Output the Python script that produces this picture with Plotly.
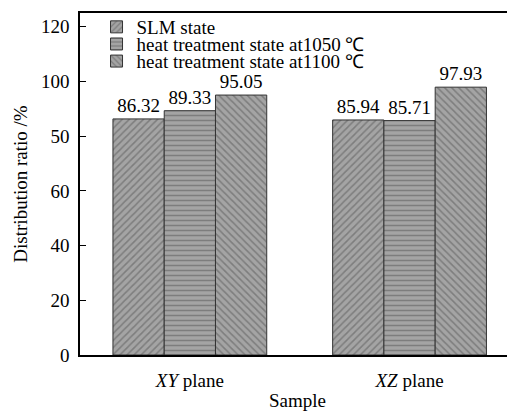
import plotly.graph_objects as go

categories = ["<i>XY</i> plane", "<i>XZ</i> plane"]
series_names = ["SLM state", "heat treatment state at1050 ℃", "heat treatment state at1100 ℃"]
slm_values = [86.32, 85.94]
ht1050_values = [89.33, 85.71]
ht1100_values = [95.05, 97.93]
y_tick_values = [0, 20, 40, 60, 80, 100, 120]
y_tick_labels = ["0", "20", "40", "60", "50", "100", "120"]

FONT = "Liberation Serif"
x_pos = list(range(len(categories)))

fig = go.Figure()
specs = [(series_names[0], slm_values, "/", "legend"),
         (series_names[1], ht1050_values, "-", "legend2"),
         (series_names[2], ht1100_values, "\\", "legend3")]
for name, vals, shape, leg in specs:
    fig.add_trace(go.Bar(
        x=x_pos, y=vals, name=name, legend=leg,
        text=[f"{v:.2f}" for v in vals], textposition="outside",
        textfont=dict(family=FONT, size=19, color="black"),
        cliponaxis=False,
        marker=dict(color="#a4a4a4",
                    line=dict(color="#333333", width=1),
                    pattern=dict(shape=shape, fgcolor="#555555", bgcolor="#a4a4a4",
                                 size=5, solidity=0.3, fillmode="overlay")),
    ))

leg_common = dict(x=0.038, xanchor="left", yanchor="middle",
                  bgcolor="rgba(0,0,0,0)", font=dict(family=FONT, size=19, color="black"),
                  tracegroupgap=0, itemwidth=30)

# page body has an 8px default margin: compensate so the plot lands where the reference has it
fig.update_layout(
    width=507, height=412,
    margin=dict(l=72, r=0, t=0, b=65),
    paper_bgcolor="white", plot_bgcolor="white",
    barmode="group", bargap=0.3, bargroupgap=0,
    font=dict(family=FONT, size=19, color="black"),
    showlegend=True,
    legend=dict(y=0.960, **leg_common),
    legend2=dict(y=0.909, **leg_common),
    legend3=dict(y=0.859, **leg_common),
    xaxis=dict(range=[-0.5, 1.48], tickvals=x_pos, ticktext=categories,
               showline=True, linecolor="black", linewidth=1.5, mirror=True,
               ticks="", showgrid=False, zeroline=False, ticklabelstandoff=7,
               automargin=False,
               tickfont=dict(family=FONT, size=19),
               title=dict(text="Sample", font=dict(family=FONT, size=19), standoff=4)),
    yaxis=dict(range=[0, 125.05], tickvals=y_tick_values, ticktext=y_tick_labels,
               showline=True, linecolor="black", linewidth=1.5, mirror=False,
               ticks="inside", ticklen=6, tickwidth=1.2, tickcolor="black",
               showgrid=False, zeroline=False, automargin=False, ticklabelstandoff=5,
               tickfont=dict(family=FONT, size=19),
               title=dict(text="Distribution ratio /%", font=dict(family=FONT, size=19), standoff=8)),
)

fig.write_html("out.html")
